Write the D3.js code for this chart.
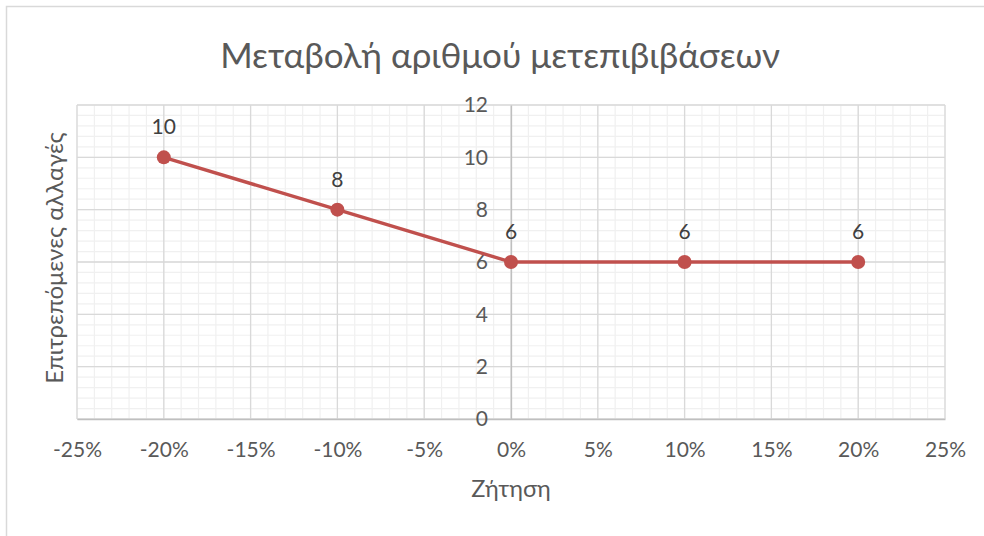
<!DOCTYPE html>
<html>
<head>
<meta charset="utf-8">
<script src="https://cdn.jsdelivr.net/npm/d3@7"></script>
<style>
  html, body { margin: 0; padding: 0; background: #fff; }
  svg { display: block; }
  text { font-family: Lato, "Noto Sans", sans-serif; fill: #595959; }
</style>
</head>
<body>
<svg id="chart" width="984" height="536"></svg>
<script>
// Demand change (fraction) and allowed number of transfers
const demand = [-0.20, -0.10, 0.00, 0.10, 0.20];
const transfers = [10, 8, 6, 6, 6];
const xTicks = [-0.25, -0.20, -0.15, -0.10, -0.05, 0, 0.05, 0.10, 0.15, 0.20, 0.25];
const yTicks = [0, 2, 4, 6, 8, 10, 12];
const titleText = "Μεταβολή αριθμού μετεπιβιβάσεων";
const xTitle = "Ζήτηση";
const yTitle = "Επιτρεπόμενες αλλαγές";

const svg = d3.select("#chart");
const W = 984, H = 536;
const plot = { left: 77, right: 945, top: 105, bottom: 419 };
const FONT = "Lato, 'Noto Sans', sans-serif";

// Chart frame
svg.append("rect")
  .attr("x", 6.5).attr("y", 6.5)
  .attr("width", W + 10).attr("height", H + 10)
  .attr("fill", "#fff").attr("stroke", "#d9d9d9").attr("stroke-width", 1.5);

const x = d3.scaleLinear().domain([-0.25, 0.25]).range([plot.left, plot.right]);
const y = d3.scaleLinear().domain([0, 12]).range([plot.bottom, plot.top]);

// Minor gridlines
const xMinor = d3.range(-25, 26, 1).map(v => v / 100);
const yMinor = d3.range(0, 12.0001, 0.4);
const grid = svg.append("g");
grid.selectAll("line.xm").data(xMinor).join("line")
  .attr("x1", d => x(d)).attr("x2", d => x(d))
  .attr("y1", plot.top).attr("y2", plot.bottom)
  .attr("stroke", "#f0f0f0").attr("stroke-width", 1.2);
grid.selectAll("line.ym").data(yMinor).join("line")
  .attr("y1", d => y(d)).attr("y2", d => y(d))
  .attr("x1", plot.left).attr("x2", plot.right)
  .attr("stroke", "#f0f0f0").attr("stroke-width", 1.2);

// Major gridlines
grid.selectAll("line.xM").data(xTicks).join("line")
  .attr("x1", d => x(d)).attr("x2", d => x(d))
  .attr("y1", plot.top).attr("y2", plot.bottom)
  .attr("stroke", "#d9d9d9").attr("stroke-width", 1.3);
grid.selectAll("line.yM").data(yTicks).join("line")
  .attr("y1", d => y(d)).attr("y2", d => y(d))
  .attr("x1", plot.left).attr("x2", plot.right)
  .attr("stroke", "#d9d9d9").attr("stroke-width", 1.3);

// Axes: horizontal at y = 0, vertical at x = 0
const fmtPct = d => d3.format(".0%")(d).replace("\u2212", "-");
const xAxis = d3.axisBottom(x).tickValues(xTicks).tickFormat(fmtPct).tickSize(0).tickPadding(23);
const gx = svg.append("g").attr("transform", `translate(0,${y(0)})`).call(xAxis);
gx.select(".domain").attr("stroke", "#bfbfbf").attr("stroke-width", 1.3);
gx.selectAll("text").attr("font-size", 21).style("fill", "#595959").style("font-family", FONT);

const yAxis = d3.axisLeft(y).tickValues(yTicks).tickSize(0).tickPadding(23);
const gy = svg.append("g").attr("transform", `translate(${x(0)},0)`).call(yAxis);
gy.select(".domain").attr("stroke", "#bfbfbf").attr("stroke-width", 1.3);
gy.selectAll("text").attr("font-size", 21).style("fill", "#595959").style("font-family", FONT);

// Series line and markers
const pts = demand.map((d, i) => [d, transfers[i]]);
svg.append("path")
  .datum(pts)
  .attr("fill", "none")
  .attr("stroke", "#c0504d")
  .attr("stroke-width", 3.4)
  .attr("stroke-linejoin", "round")
  .attr("d", d3.line().x(d => x(d[0])).y(d => y(d[1])));

svg.selectAll("circle.pt").data(pts).join("circle")
  .attr("cx", d => x(d[0])).attr("cy", d => y(d[1]))
  .attr("r", 7).attr("fill", "#c0504d");

// Data labels
svg.selectAll("text.lbl").data(pts).join("text")
  .attr("x", d => x(d[0])).attr("y", d => y(d[1]) - 23)
  .attr("text-anchor", "middle")
  .attr("font-size", 21)
  .style("fill", "#404040")
  .text(d => d[1]);

// Titles
svg.append("text")
  .attr("x", 500).attr("y", 68)
  .attr("text-anchor", "middle")
  .attr("font-size", 35)
  .text(titleText);

svg.append("text")
  .attr("x", x(0)).attr("y", 497)
  .attr("text-anchor", "middle")
  .attr("font-size", 23.5)
  .text(xTitle);

svg.append("text")
  .attr("transform", `translate(63,258) rotate(-90)`)
  .attr("text-anchor", "middle")
  .attr("font-size", 24)
  .text(yTitle);
</script>
</body>
</html>
